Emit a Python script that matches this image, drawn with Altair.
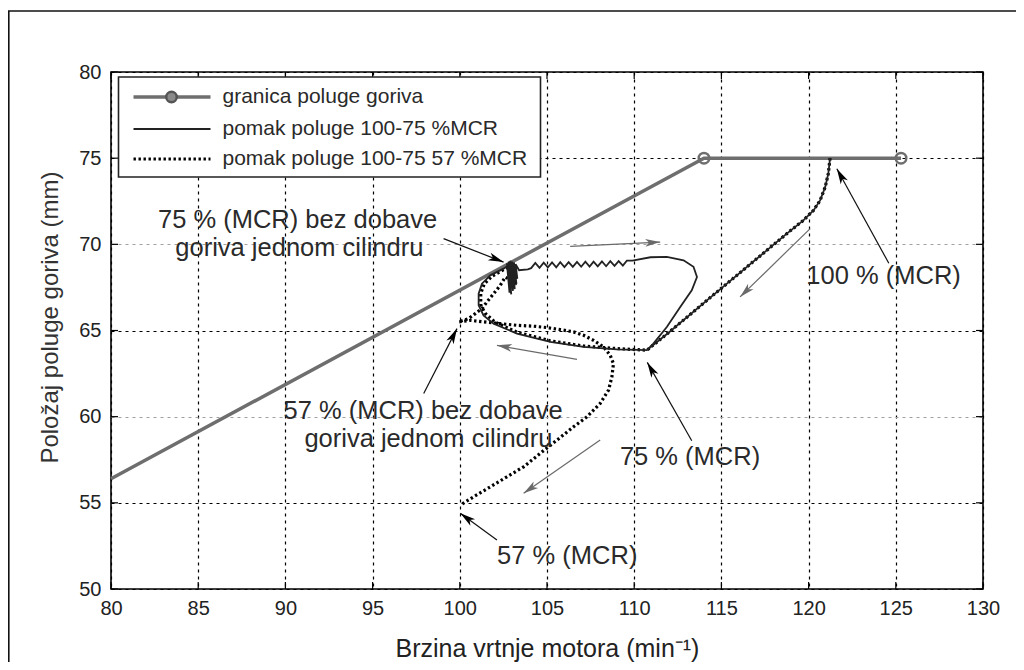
import math
import altair as alt
import pandas as pd

FONT = "Liberation Sans"

# ---------------- data ----------------
X_TICKS = [80, 85, 90, 95, 100, 105, 110, 115, 120, 125, 130]
Y_TICKS = [50, 55, 60, 65, 70, 75, 80]

SERIES = ["granica poluge goriva",
          "pomak poluge 100-75 %MCR",
          "pomak poluge 100-75 57 %MCR"]

# fuel-rack limit line
LIM_X = [80.0, 114.0, 125.3]
LIM_Y = [56.4, 75.0, 75.0]
LIM_MK_X = [114.0, 125.3]
LIM_MK_Y = [75.0, 75.0]

# 100 -> 75 %MCR (solid)
SOL_X = [121.23, 121.13, 120.95, 120.66, 120.28, 119.7, 118.75, 114.7, 112.0, 110.73,
         109.0, 107.1, 105.19, 103.28, 101.94, 101.36, 101.08, 101.08, 101.27, 101.75, 102.51, 102.8,
         102.85, 102.7, 102.95, 102.8, 103.05, 102.9, 103.15, 103.0, 103.25, 103.1, 103.3, 103.2,
         103.4, 103.9,
         104.09, 104.33, 104.57, 104.81, 105.05, 105.29, 105.53, 105.76, 106.0, 106.24,
         106.48, 106.72, 106.96, 107.2, 107.44, 107.67, 107.91, 108.15, 108.39, 108.63,
         108.87, 109.11, 109.35, 109.58, 109.9,
         110.93, 111.87, 112.83, 113.4, 113.6, 113.3, 112.64, 111.87, 111.1, 110.73]
SOL_Y = [75.0, 74.1, 73.32, 72.55, 71.97, 71.39, 70.62, 67.2, 64.9, 63.86,
         63.9, 64.05, 64.34, 64.82, 65.4, 65.88, 66.46, 67.14, 67.72, 68.2, 68.59, 68.78,
         67.2, 68.9, 67.1, 69.0, 67.3, 69.05, 67.4, 69.0, 67.7, 68.95, 68.0, 68.85,
         68.5, 68.55,
         68.62, 68.92, 68.64, 68.94, 68.66, 68.95, 68.67, 68.96, 68.68, 68.97,
         68.69, 68.98, 68.70, 68.99, 68.71, 69.0, 68.72, 69.01, 68.73, 69.02,
         68.75, 69.03, 68.77, 69.05, 69.05,
         69.25, 69.27, 69.07, 68.7, 68.1, 67.33, 66.37, 65.2, 64.24, 63.86]

# 100 -> 75 -> 57 %MCR (dotted)
DOT_X = [121.23, 121.13, 120.95, 120.66, 120.28, 119.7, 118.75, 114.7, 112.0, 110.73,
         109.0, 107.1, 105.19, 103.28, 102.0, 101.45, 101.2, 101.2, 101.4, 101.85, 102.55, 102.9,
         103.1, 102.95, 103.15,
         102.61, 102.32, 101.94, 101.56, 101.27, 100.89, 100.5, 99.93,
         100.6, 101.36, 102.32, 103.28, 104.23, 105.0, 105.76, 106.52, 107.1, 107.67, 108.24,
         108.62, 108.81, 108.72, 108.53, 108.05, 107.29, 106.52, 105.57, 104.61, 103.66,
         102.7, 101.75, 100.79, 100.03]
DOT_Y = [75.0, 74.1, 73.32, 72.55, 71.97, 71.39, 70.62, 67.2, 64.9, 63.86,
         63.95, 64.1, 64.4, 64.9, 65.5, 66.0, 66.5, 67.14, 67.7, 68.15, 68.55, 68.75,
         67.6, 68.9, 67.8,
         68.1, 67.62, 67.14, 66.66, 66.27, 65.98, 65.69, 65.5,
         65.59, 65.5, 65.4, 65.3, 65.25, 65.17, 65.05, 64.92, 64.72, 64.43, 64.05,
         63.57, 63.08, 62.31, 61.54, 60.77, 59.99, 59.41, 58.64, 57.87, 57.09,
         56.51, 55.93, 55.35, 54.87]

ANN_TEXT = ["75 % (MCR) bez dobave", "goriva jednom cilindru",
            "57 % (MCR) bez dobave", "goriva jednom cilindru",
            "75 % (MCR)", "100 % (MCR)", "57 % (MCR)"]
ANN_X = [90.7, 90.8, 97.9, 98.2, 113.2, 124.3, 106.16]
ANN_Y = [70.93, 69.3, 59.85, 58.25, 57.22, 67.7, 51.45]

# black annotation arrows (start -> tip)
BA_X0 = [99.07, 97.93, 113.3, 124.6, 102.13]
BA_Y0 = [70.33, 61.34, 58.6, 68.9, 52.84]
BA_X1 = [102.51, 99.84, 110.75, 121.62, 100.03]
BA_Y1 = [68.97, 65.11, 63.15, 74.39, 54.39]

# grey direction arrows (start -> tip)
GA_X0 = [106.33, 120.09, 106.72, 108.05]
GA_Y0 = [69.88, 70.91, 63.32, 58.64]
GA_X1 = [111.49, 116.07, 102.13, 103.66]
GA_Y1 = [70.13, 66.95, 64.14, 55.55]

# ---------------- layout ----------------
W, H = 872, 517
XMIN, XMAX, YMIN, YMAX = 80, 130, 50, 80
SX = W / (XMAX - XMIN)
SY = H / (YMAX - YMIN)

xs = alt.Scale(domain=[XMIN, XMAX], nice=False, zero=False)
ys = alt.Scale(domain=[YMIN, YMAX], nice=False, zero=False)

x_axis = alt.Axis(values=X_TICKS, title="Brzina vrtnje motora (min⁻¹)", grid=True,
                  gridColor="#000000", gridDash=[3, 4], gridWidth=1.2,
                  domain=False, ticks=False, labelFont=FONT, labelFontSize=20,
                  labelColor="#222222", labelPadding=9, labelFlush=False,
                  titleFont=FONT, titleFontSize=25, titleFontWeight="normal",
                  titleColor="#222222", titlePadding=18)
y_axis = alt.Axis(values=Y_TICKS, title="Položaj poluge goriva (mm)", grid=True,
                  gridColor={"condition": {"test": "datum.value === 60 || datum.value === 70",
                                           "value": "#a0a0a0"}, "value": "#000000"},
                  gridDash=[3, 4], gridWidth=1.2,
                  domain=False, ticks=False, labelFont=FONT, labelFontSize=20,
                  labelColor="#222222", labelPadding=10, labelFlush=False,
                  titleFont=FONT, titleFontSize=24, titleFontWeight="normal",
                  titleColor="#333333", titlePadding=16, titleY=245)


def X(f="x", axis=alt.Undefined):
    return alt.X(f"{f}:Q", scale=xs, axis=axis)


def Y(f="y", axis=alt.Undefined):
    return alt.Y(f"{f}:Q", scale=ys, axis=axis)


lim_df = pd.DataFrame({"x": LIM_X, "y": LIM_Y, "i": range(len(LIM_X))})
limmk_df = pd.DataFrame({"x": LIM_MK_X, "y": LIM_MK_Y})
sol_df = pd.DataFrame({"x": SOL_X, "y": SOL_Y, "i": range(len(SOL_X))})
dot_df = pd.DataFrame({"x": DOT_X, "y": DOT_Y, "i": range(len(DOT_X))})
ann_df = pd.DataFrame({"x": ANN_X, "y": ANN_Y, "t": ANN_TEXT})


def arrows(x0, y0, x1, y1):
    ang = []
    for a, b, c, d in zip(x0, y0, x1, y1):
        dxp = (c - a) * SX
        dyp = -(d - b) * SY
        ang.append(math.degrees(math.atan2(dxp, -dyp)) % 360)
    return pd.DataFrame({"x": x0, "y": y0, "xe": x1, "ye": y1, "ang": ang})


ba_df = arrows(BA_X0, BA_Y0, BA_X1, BA_Y1)
ga_df = arrows(GA_X0, GA_Y0, GA_X1, GA_Y1)

xt_df = pd.DataFrame({"x": X_TICKS})
yt_df = pd.DataFrame({"y": Y_TICKS})

HEAD = "M0,0 L0.6,2.3 L0,1.7 L-0.6,2.3 Z"

# base layer carrying the axes
base = alt.Chart(lim_df).mark_line(color="#6e6e6e", strokeWidth=3.5).encode(
    x=X(axis=x_axis), y=Y(axis=y_axis), order="i:Q")

lim_pts = alt.Chart(limmk_df).mark_point(shape="circle", size=110, filled=False,
                                         stroke="#6e6e6e", strokeWidth=2.5, opacity=1).encode(
    x=X(), y=Y())

dot_line = alt.Chart(dot_df).mark_line(color="#000000", strokeWidth=3.2,
                                       strokeDash=[2.4, 2.6]).encode(
    x=X(), y=Y(), order="i:Q")

sol_line = alt.Chart(sol_df).mark_line(color="#222222", strokeWidth=1.8).encode(
    x=X(), y=Y(), order="i:Q")

ga_rule = alt.Chart(ga_df).mark_rule(color="#6a6a6a", strokeWidth=1.2).encode(
    x=X(), y=Y(), x2="xe:Q", y2="ye:Q")
ga_head = alt.Chart(ga_df).mark_point(shape=HEAD, size=170, filled=True, fill="#6a6a6a",
                                      strokeWidth=0, opacity=1).encode(
    x=X("xe"), y=Y("ye"), angle=alt.Angle("ang:Q", scale=None))

ba_rule = alt.Chart(ba_df).mark_rule(color="#111111", strokeWidth=1.2).encode(
    x=X(), y=Y(), x2="xe:Q", y2="ye:Q")
ba_head = alt.Chart(ba_df).mark_point(shape=HEAD, size=180, filled=True, fill="#000000",
                                      strokeWidth=0, opacity=1).encode(
    x=X("xe"), y=Y("ye"), angle=alt.Angle("ang:Q", scale=None))

ann = alt.Chart(ann_df).mark_text(font=FONT, fontSize=25.5, color="#2a2a2a",
                                  align="center", baseline="alphabetic").encode(
    x=X(), y=Y(), text="t:N")

# inward ticks
xt_b = alt.Chart(xt_df).mark_rule(color="#000000", strokeWidth=1.2).encode(
    x=X(), y=alt.value(H), y2=alt.value(H - 7))
xt_t = alt.Chart(xt_df).mark_rule(color="#000000", strokeWidth=1.2).encode(
    x=X(), y=alt.value(0), y2=alt.value(7))
yt_l = alt.Chart(yt_df).mark_rule(color="#000000", strokeWidth=1.2).encode(
    y=Y(), x=alt.value(0), x2=alt.value(7))
yt_r = alt.Chart(yt_df).mark_rule(color="#000000", strokeWidth=1.2).encode(
    y=Y(), x=alt.value(W), x2=alt.value(W - 7))

# legend
one = pd.DataFrame({"k": [0]})
leg_box = alt.Chart(one).mark_rect(fill="white", stroke="#222222", strokeWidth=1.6).encode(
    x=alt.value(7.5), x2=alt.value(429.5), y=alt.value(5), y2=alt.value(105))
ROW_Y = [25, 57, 87]
leg_l1 = alt.Chart(one).mark_rule(color="#6e6e6e", strokeWidth=3.5).encode(
    x=alt.value(22.5), x2=alt.value(99.5), y=alt.value(ROW_Y[0]))
leg_m1 = alt.Chart(one).mark_point(shape="circle", size=110, filled=True, fill="#8a8a8a",
                                   stroke="#555555", strokeWidth=2.5, opacity=1).encode(
    x=alt.value(60.5), y=alt.value(ROW_Y[0]))
leg_l2 = alt.Chart(one).mark_rule(color="#222222", strokeWidth=1.8).encode(
    x=alt.value(22.5), x2=alt.value(99.5), y=alt.value(ROW_Y[1]))
leg_l3 = alt.Chart(one).mark_rule(color="#000000", strokeWidth=3.2,
                                  strokeDash=[2.4, 2.6]).encode(
    x=alt.value(22.5), x2=alt.value(99.5), y=alt.value(ROW_Y[2]))
leg_txt = [alt.Chart(pd.DataFrame({"t": [s]})).mark_text(
    font=FONT, fontSize=21, color="#2a2a2a", align="left", baseline="middle").encode(
    x=alt.value(111.5), y=alt.value(ROW_Y[k]), text="t:N") for k, s in enumerate(SERIES)]

# outer figure frame (left and top edges)
frame_l = alt.Chart(one).mark_rule(color="#111111", strokeWidth=1.6).encode(
    x=alt.value(-102.2), y=alt.value(-61), y2=alt.value(600))
frame_t = alt.Chart(one).mark_rule(color="#111111", strokeWidth=1.6).encode(
    x=alt.value(-103), x2=alt.value(910), y=alt.value(-61))

chart = alt.layer(
    base, lim_pts, dot_line, sol_line, ga_rule, ga_head, ba_rule, ba_head, ann,
    xt_b, xt_t, yt_l, yt_r,
    leg_box, leg_l1, leg_m1, leg_l2, leg_l3, *leg_txt,
    frame_l, frame_t
).properties(
    width=W, height=H,
    autosize=alt.AutoSizeParams(type="none"),
    padding={"left": 103, "top": 64, "right": 33, "bottom": 73},
    background="white"
).configure_view(stroke="#000000", strokeWidth=1.6)

chart.save("out.html", embed_options={"renderer": "svg", "actions": False})
